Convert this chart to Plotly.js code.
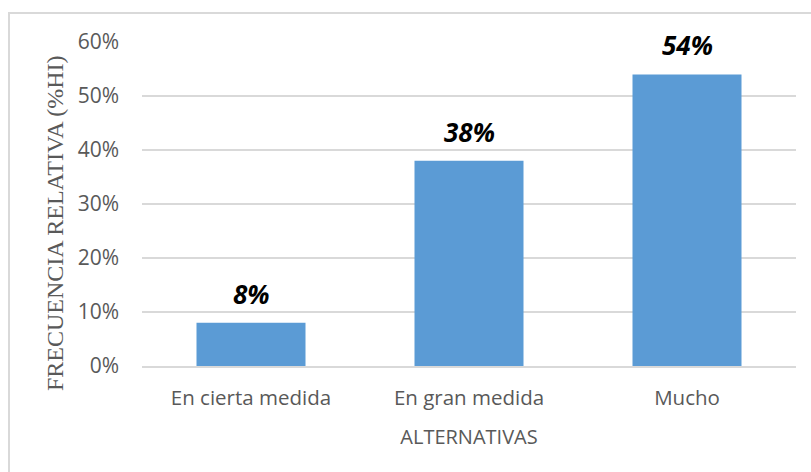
<!DOCTYPE html>
<html>
<head>
<meta charset="utf-8">
<script src="https://cdn.plot.ly/plotly-3.0.1.min.js"></script>
<style>
html,body{margin:0;padding:0;background:#fff;}
#wrap{position:relative;width:811px;height:472px;overflow:hidden;}
#chart{position:absolute;left:0;top:0;width:811px;height:472px;}
#frame{position:absolute;left:8px;top:12px;width:900px;height:600px;border-left:2px solid #d9d9d9;border-top:2px solid #d9d9d9;pointer-events:none;}
</style>
</head>
<body>
<div id="wrap"><div id="chart"></div><div id="frame"></div></div>
<script>
const categories = ["En cierta medida", "En gran medida", "Mucho"];
const values = [0.08, 0.38, 0.54];
const labels = ["8%", "38%", "54%"];
const yTicks = [0, 0.1, 0.2, 0.3, 0.4, 0.5, 0.6];
const yTickText = ["0%", "10%", "20%", "30%", "40%", "50%", "60%"];
const xTitle = "ALTERNATIVAS";
const yTitle = "FRECUENCIA RELATIVA (%HI)";

const trace = {
  type: "bar",
  x: categories,
  y: values,
  marker: {color: "#5B9BD5"},
  hoverinfo: "none"
};

const valueAnnotations = categories.map((c, i) => ({
  x: c, y: values[i], xref: "x", yref: "y",
  text: labels[i], showarrow: false,
  yanchor: "middle", yshift: 29,
  font: {family: "Open Sans", size: 26, color: "#000000", weight: "bold", style: "italic"}
}));

const layout = {
  width: 811, height: 472,
  margin: {l: 142, r: 15, t: 42, b: 106},
  paper_bgcolor: "rgba(0,0,0,0)",
  plot_bgcolor: "#ffffff",
  bargap: 0.5,
  showlegend: false,
  font: {family: "Open Sans", color: "#595959"},
  xaxis: {
    type: "category",
    tickfont: {family: "Open Sans", size: 20.5, color: "#595959"},
    ticks: "", ticklabelstandoff: 12,
    showline: true, linecolor: "#d9d9d9", linewidth: 2,
    showgrid: false,
    title: {text: xTitle, font: {family: "Open Sans", size: 20, color: "#595959"}, standoff: 20}
  },
  yaxis: {
    range: [0, 0.6],
    tickvals: yTicks, ticktext: yTickText,
    tickfont: {family: "Open Sans", size: 21, color: "#595959"},
    ticks: "", ticklabelstandoff: 22,
    showgrid: true, gridcolor: "#d9d9d9", gridwidth: 2,
    zeroline: false,
    showline: false
  },
  annotations: valueAnnotations.concat([{
    text: yTitle, textangle: -90, showarrow: false,
    xref: "paper", yref: "paper",
    x: -0.132, y: 0.44, xanchor: "center", yanchor: "middle",
    font: {family: "Liberation Serif", size: 24, color: "#595959"}
  }])
};

Plotly.newPlot("chart", [trace], layout, {displayModeBar: false, staticPlot: true});
</script>
</body>
</html>
